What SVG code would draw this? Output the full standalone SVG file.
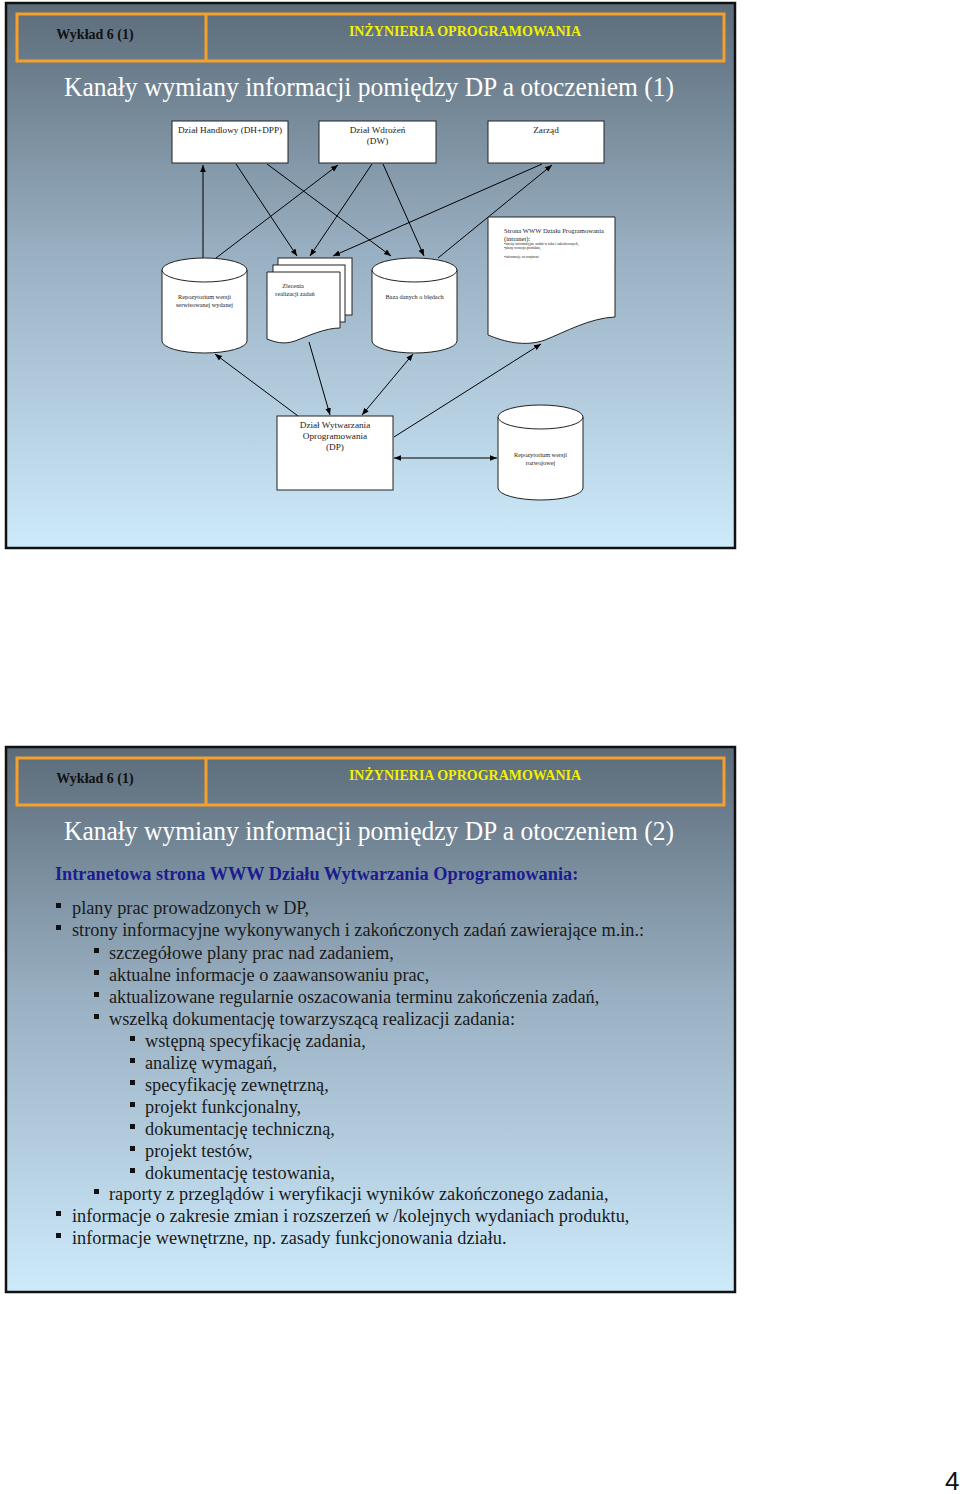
<svg xmlns="http://www.w3.org/2000/svg" width="960" height="1494" viewBox="0 0 960 1494">
<defs>
<linearGradient id="bg" x1="0" y1="0" x2="0" y2="1">
<stop offset="0" stop-color="#5b6b79"/>
<stop offset="0.45" stop-color="#98afc1"/>
<stop offset="1" stop-color="#cdeafb"/>
</linearGradient>
<marker id="arr" viewBox="0 0 10 10" refX="10" refY="5" markerWidth="7" markerHeight="7" markerUnits="userSpaceOnUse" orient="auto-start-reverse">
<path d="M0,1 L10,5 L0,9 Z" fill="#000"/>
</marker>
<style>
.frame{fill:url(#bg);stroke:#111;stroke-width:2.5}
.hdr{fill:none;stroke:#f5a02a;stroke-width:3}
.lec{font-family:"Liberation Serif",serif;font-weight:bold;font-size:14px;fill:#111}
.ino{font-family:"Liberation Serif",serif;font-weight:bold;font-size:14px;fill:#f2f000}
.ttl{font-family:"Liberation Serif",serif;font-size:27px;fill:#fff}
.box{fill:#fff;stroke:#222;stroke-width:1}
.nt{font-family:"Liberation Serif",serif;font-size:9.2px;fill:#222;text-anchor:middle}
.st{font-family:"Liberation Serif",serif;font-size:6.3px;fill:#222;text-anchor:middle}
.wt{font-family:"Liberation Serif",serif;font-size:6.6px;fill:#222}
.wb{font-family:"Liberation Serif",serif;font-size:3.6px;fill:#222}
.con{stroke:#000;stroke-width:1;fill:none}
.sub{font-family:"Liberation Serif",serif;font-weight:bold;font-size:18.3px;fill:#1c1c90}
.li{font-family:"Liberation Serif",serif;font-size:18.3px;fill:#1a1a1a}
.bl{fill:#111}
</style>
</defs>
<rect width="960" height="1494" fill="#fff"/>

<!-- Slide 1 -->
<g id="slide1">
<rect class="frame" x="6" y="3" width="729" height="545"/>
<rect class="hdr" x="17" y="14" width="707" height="47"/>
<line class="hdr" x1="206" y1="14" x2="206" y2="61"/>
<text class="lec" x="95" y="39" text-anchor="middle">Wykład 6 (1)</text>
<text class="ino" x="465" y="36" text-anchor="middle">INŻYNIERIA OPROGRAMOWANIA</text>
<text class="ttl" x="64" y="96" textLength="610" lengthAdjust="spacingAndGlyphs">Kanały wymiany informacji pomiędzy DP a otoczeniem (1)</text>
</g>

<g id="connectors1">
<line class="con" x1="203" y1="258" x2="203" y2="165" marker-end="url(#arr)"/>
<line class="con" x1="236" y1="164" x2="297" y2="256" marker-end="url(#arr)"/>
<line class="con" x1="267" y1="164" x2="391" y2="256" marker-end="url(#arr)"/>
<line class="con" x1="216" y1="258" x2="338" y2="165" marker-end="url(#arr)"/>
<line class="con" x1="372" y1="164" x2="310" y2="256" marker-end="url(#arr)"/>
<line class="con" x1="383" y1="164" x2="424" y2="256" marker-end="url(#arr)"/>
<line class="con" x1="542" y1="164" x2="333" y2="256" marker-end="url(#arr)"/>
<line class="con" x1="438" y1="258" x2="552" y2="165" marker-end="url(#arr)"/>
<line class="con" x1="298" y1="416" x2="215" y2="354" marker-end="url(#arr)"/>
<line class="con" x1="309" y1="342" x2="330" y2="415" marker-end="url(#arr)"/>
<line class="con" x1="362" y1="415" x2="413" y2="354" marker-start="url(#arr)" marker-end="url(#arr)"/>
<line class="con" x1="394" y1="437" x2="541" y2="344" marker-end="url(#arr)"/>
<line class="con" x1="394" y1="458" x2="497" y2="458" marker-start="url(#arr)" marker-end="url(#arr)"/>
</g>

<g id="dh">
<rect class="box" x="172" y="121" width="116" height="42"/>
<text class="nt" x="230" y="133">Dział Handlowy (DH+DPP)</text>
</g>
<g id="dw">
<rect class="box" x="319" y="121" width="117" height="42"/>
<text class="nt" x="377.5" y="133">Dział Wdrożeń</text>
<text class="nt" x="377.5" y="144">(DW)</text>
</g>
<g id="zarzad">
<rect class="box" x="488" y="121" width="116" height="42"/>
<text class="nt" x="546" y="133">Zarząd</text>
</g>

<g id="www">
<path class="box" d="M488,217 H615 V317 C590,318 565,332 545,340 C525,347 505,342 488,335 Z"/>
<text class="wt" x="504" y="233">Strona WWW Działu Programowania</text>
<text class="wt" x="504" y="241">(intranet):</text>
<text class="wb" x="504" y="245">•strony informacyjne zadań w toku i zakończonych,</text>
<text class="wb" x="504" y="249">•plany rozwoju produktu,</text>
<text class="wb" x="504" y="258">•informacje wewnętrzne</text>
</g>

<g id="repo-serwis">
<path class="box" d="M162,270 V341 A42.5,12 0 0 0 247,341 V270 A42.5,12 0 0 0 162,270 Z"/>
<path class="box" d="M162,270 A42.5,12 0 0 0 247,270" fill="none"/>
<text class="st" x="204.5" y="299">Repozytorium wersji</text>
<text class="st" x="204.5" y="307">serwisowanej wydanej</text>
</g>

<g id="zlecenia">
<rect class="box" x="278" y="258" width="74" height="57"/>
<rect class="box" x="273" y="265" width="72" height="57"/>
<path class="box" d="M267,272 H340 V328 C325,328 308,336 295,341 C283,345 275,342 267,339 Z"/>
<text class="st" x="293" y="288">Zlecenia</text>
<text class="st" x="295" y="296">realizacji zadań</text>
</g>

<g id="baza">
<path class="box" d="M372,270 V341 A42.5,12 0 0 0 457,341 V270 A42.5,12 0 0 0 372,270 Z"/>
<path class="box" d="M372,270 A42.5,12 0 0 0 457,270" fill="none"/>
<text class="st" x="414.5" y="299">Baza danych o błędach</text>
</g>

<g id="dp">
<rect class="box" x="277" y="416" width="116" height="74"/>
<text class="nt" x="335" y="428">Dział Wytwarzania</text>
<text class="nt" x="335" y="439">Oprogramowania</text>
<text class="nt" x="335" y="450">(DP)</text>
</g>

<g id="repo-rozw">
<path class="box" d="M498,417 V488 A42.5,12 0 0 0 583,488 V417 A42.5,12 0 0 0 498,417 Z"/>
<path class="box" d="M498,417 A42.5,12 0 0 0 583,417" fill="none"/>
<text class="st" x="540.5" y="457">Repozytorium wersji</text>
<text class="st" x="540.5" y="465">rozwojowej</text>
</g>

<!-- Slide 2 -->
<g id="slide2">
<rect class="frame" x="6" y="747" width="729" height="545"/>
<rect class="hdr" x="17" y="758" width="707" height="47"/>
<line class="hdr" x1="206" y1="758" x2="206" y2="805"/>
<text class="lec" x="95" y="783" text-anchor="middle">Wykład 6 (1)</text>
<text class="ino" x="465" y="780" text-anchor="middle">INŻYNIERIA OPROGRAMOWANIA</text>
<text class="ttl" x="64" y="840" textLength="610" lengthAdjust="spacingAndGlyphs">Kanały wymiany informacji pomiędzy DP a otoczeniem (2)</text>
<text class="sub" x="55" y="880">Intranetowa strona WWW Działu Wytwarzania Oprogramowania:</text>

<g class="bl">
<rect x="56" y="903" width="5" height="5"/>
<rect x="56" y="925" width="5" height="5"/>
<rect x="94" y="948" width="5" height="5"/>
<rect x="94" y="970" width="5" height="5"/>
<rect x="94" y="992" width="5" height="5"/>
<rect x="94" y="1014" width="5" height="5"/>
<rect x="130" y="1036" width="5" height="5"/>
<rect x="130" y="1058" width="5" height="5"/>
<rect x="130" y="1080" width="5" height="5"/>
<rect x="130" y="1102" width="5" height="5"/>
<rect x="130" y="1124" width="5" height="5"/>
<rect x="130" y="1146" width="5" height="5"/>
<rect x="130" y="1168" width="5" height="5"/>
<rect x="94" y="1189" width="5" height="5"/>
<rect x="56" y="1211" width="5" height="5"/>
<rect x="56" y="1233" width="5" height="5"/>
</g>

<text class="li" x="72" y="914">plany prac prowadzonych w DP,</text>
<text class="li" x="72" y="936">strony informacyjne wykonywanych i zakończonych zadań zawierające m.in.:</text>
<text class="li" x="109" y="959">szczegółowe plany prac nad zadaniem,</text>
<text class="li" x="109" y="981">aktualne informacje o zaawansowaniu prac,</text>
<text class="li" x="109" y="1003">aktualizowane regularnie oszacowania terminu zakończenia zadań,</text>
<text class="li" x="109" y="1025">wszelką dokumentację towarzyszącą realizacji zadania:</text>
<text class="li" x="145" y="1047">wstępną specyfikację zadania,</text>
<text class="li" x="145" y="1069">analizę wymagań,</text>
<text class="li" x="145" y="1091">specyfikację zewnętrzną,</text>
<text class="li" x="145" y="1113">projekt funkcjonalny,</text>
<text class="li" x="145" y="1135">dokumentację techniczną,</text>
<text class="li" x="145" y="1157">projekt testów,</text>
<text class="li" x="145" y="1179">dokumentację testowania,</text>
<text class="li" x="109" y="1200">raporty z przeglądów i weryfikacji wyników zakończonego zadania,</text>
<text class="li" x="72" y="1222">informacje o zakresie zmian i rozszerzeń w /kolejnych wydaniach produktu,</text>
<text class="li" x="72" y="1244">informacje wewnętrzne, np. zasady funkcjonowania działu.</text>
</g>

<text x="945" y="1490" font-family="Liberation Sans, Arial, sans-serif" font-size="26" fill="#111">4</text>
</svg>
